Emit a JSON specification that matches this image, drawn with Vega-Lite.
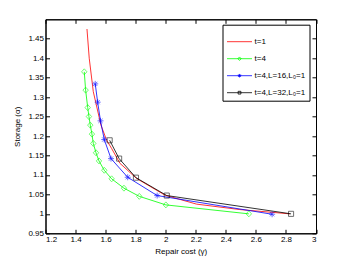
{
  "$schema": "https://vega.github.io/schema/vega-lite/v6.json",
  "width": 270.5,
  "height": 214,
  "autosize": {"type": "none"},
  "padding": {"left": 45.5, "top": 19.3, "right": 33, "bottom": 29.7},
  "background": "white",
  "config": {
    "font": "Liberation Sans",
    "view": {"stroke": "black", "strokeWidth": 1},
    "axis": {"grid": false, "domainColor": "black", "tickColor": "black", "labelColor": "black", "titleColor": "black", "labelFont": "Liberation Sans", "titleFont": "Liberation Sans", "labelFontSize": 8, "titleFontSize": 8, "titleFontWeight": "normal", "tickSize": -4, "labelPadding": 6}
  },
  "data": {"values": [
    {"series": "t=1", "x": 1.476, "y": 1.475},
    {"series": "t=1", "x": 1.491, "y": 1.400},
    {"series": "t=1", "x": 1.518, "y": 1.314},
    {"series": "t=1", "x": 1.569, "y": 1.228},
    {"series": "t=1", "x": 1.607, "y": 1.189},
    {"series": "t=1", "x": 1.640, "y": 1.168},
    {"series": "t=1", "x": 1.695, "y": 1.130},
    {"series": "t=1", "x": 1.806, "y": 1.091},
    {"series": "t=1", "x": 1.995, "y": 1.048},
    {"series": "t=1", "x": 2.205, "y": 1.025},
    {"series": "t=1", "x": 2.493, "y": 1.011},
    {"series": "t=1", "x": 2.826, "y": 1.000},
    {"series": "t=4", "x": 1.458, "y": 1.365},
    {"series": "t=4", "x": 1.467, "y": 1.318},
    {"series": "t=4", "x": 1.481, "y": 1.273},
    {"series": "t=4", "x": 1.489, "y": 1.250},
    {"series": "t=4", "x": 1.498, "y": 1.228},
    {"series": "t=4", "x": 1.509, "y": 1.205},
    {"series": "t=4", "x": 1.518, "y": 1.181},
    {"series": "t=4", "x": 1.536, "y": 1.157},
    {"series": "t=4", "x": 1.556, "y": 1.136},
    {"series": "t=4", "x": 1.591, "y": 1.112},
    {"series": "t=4", "x": 1.640, "y": 1.090},
    {"series": "t=4", "x": 1.722, "y": 1.066},
    {"series": "t=4", "x": 1.824, "y": 1.045},
    {"series": "t=4", "x": 2.001, "y": 1.023},
    {"series": "t=4", "x": 2.553, "y": 1.000},
    {"series": "t=4,L=16,L₀=1", "x": 1.531, "y": 1.334},
    {"series": "t=4,L=16,L₀=1", "x": 1.547, "y": 1.287},
    {"series": "t=4,L=16,L₀=1", "x": 1.566, "y": 1.239},
    {"series": "t=4,L=16,L₀=1", "x": 1.591, "y": 1.191},
    {"series": "t=4,L=16,L₀=1", "x": 1.636, "y": 1.142},
    {"series": "t=4,L=16,L₀=1", "x": 1.747, "y": 1.094},
    {"series": "t=4,L=16,L₀=1", "x": 1.943, "y": 1.047},
    {"series": "t=4,L=16,L₀=1", "x": 2.708, "y": 0.999},
    {"series": "t=4,L=32,L₀=1", "x": 1.627, "y": 1.189},
    {"series": "t=4,L=32,L₀=1", "x": 1.690, "y": 1.142},
    {"series": "t=4,L=32,L₀=1", "x": 1.802, "y": 1.093},
    {"series": "t=4,L=32,L₀=1", "x": 2.007, "y": 1.047},
    {"series": "t=4,L=32,L₀=1", "x": 2.834, "y": 1.000}
  ]},
  "layer": [
    {
      "mark": {"type": "line", "strokeWidth": 0.8},
      "encoding": {
        "x": {"field": "x", "type": "quantitative", "scale": {"domain": [1.2, 3], "nice": false, "zero": false},
              "axis": {"orient": "bottom", "title": "Repair cost (γ)", "values": [1.2, 1.4, 1.6, 1.8, 2, 2.2, 2.4, 2.6, 2.8, 3], "format": "~g", "titlePadding": 4}},
        "y": {"field": "y", "type": "quantitative", "scale": {"domain": [0.95, 1.5], "nice": false, "zero": false},
              "axis": {"orient": "left", "title": "Storage (α)", "values": [0.95, 1, 1.05, 1.1, 1.15, 1.2, 1.25, 1.3, 1.35, 1.4, 1.45], "format": "~g", "titlePadding": 6}},
        "color": {"field": "series", "type": "nominal",
          "scale": {"domain": ["t=1", "t=4", "t=4,L=16,L₀=1", "t=4,L=32,L₀=1"], "range": ["#ff0000", "#00ff00", "#0000ff", "#000000"]},
          "legend": {"orient": "none", "legendX": 177, "legendY": 5.4, "title": null, "strokeColor": "black", "fillColor": "white", "padding": 4,
            "labelFontSize": 8, "labelFont": "Liberation Sans", "labelColor": "black", "symbolSize": 625, "symbolStrokeWidth": 0.8, "labelOffset": 2, "rowPadding": 0,
            "encode": {"symbols": {"update": {
              "shape": {"signal": "datum.value == 't=1' ? 'M-1,0L1,0' : datum.value == 't=4' ? 'M-1,0L1,0M0,-0.14L0.13,0L0,0.14L-0.13,0Z' : datum.value == 't=4,L=32,L₀=1' ? 'M-1,0L1,0M-0.11,-0.11L0.11,-0.11L0.11,0.11L-0.11,0.11Z' : 'M-1,0L1,0M0,-0.14L0,0.14M-0.14,0L0.14,0M-0.1,-0.1L0.1,0.1M-0.1,0.1L0.1,-0.1'"},
              "fill": {"value": "transparent"}
            }}}}
        }
      }
    },
    {
      "transform": [{"filter": "datum.series != 't=1'"}],
      "mark": {"type": "point", "filled": false, "strokeWidth": 0.8, "size": 36},
      "encoding": {
        "x": {"field": "x", "type": "quantitative", "axis": null},
        "y": {"field": "y", "type": "quantitative", "axis": null},
        "color": {"field": "series", "type": "nominal", "legend": null},
        "shape": {"field": "series", "type": "nominal", "legend": null,
          "scale": {"domain": ["t=4", "t=4,L=16,L₀=1", "t=4,L=32,L₀=1"],
                    "range": ["M0,-1L0.9,0L0,1L-0.9,0Z", "M0,-1L0,1M-1,0L1,0M-0.7,-0.7L0.7,0.7M-0.7,0.7L0.7,-0.7", "M-0.85,-0.85L0.85,-0.85L0.85,0.85L-0.85,0.85Z"]}}
      }
    },
    {
      "mark": {"type": "point", "opacity": 0},
      "encoding": {
        "x": {"field": "x", "type": "quantitative", "axis": {"orient": "top", "labels": false, "title": null, "values": [1.2, 1.4, 1.6, 1.8, 2, 2.2, 2.4, 2.6, 2.8, 3]}},
        "y": {"field": "y", "type": "quantitative", "axis": {"orient": "right", "labels": false, "title": null, "values": [0.95, 1, 1.05, 1.1, 1.15, 1.2, 1.25, 1.3, 1.35, 1.4, 1.45]}}
      }
    }
  ],
  "resolve": {"axis": {"x": "independent", "y": "independent"}}
}
